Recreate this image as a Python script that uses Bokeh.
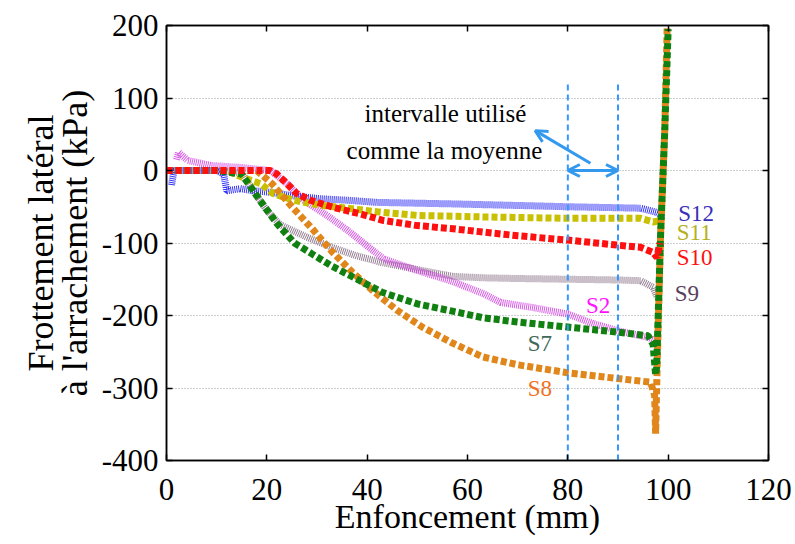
from bokeh.plotting import figure
from bokeh.models import LinearAxis, Arrow, OpenHead, FixedTicker
from bokeh.embed import file_html
from bokeh.resources import INLINE
from bokeh.core.properties import value

# ---- data ----
s8_x = [0, 10, 18, 21, 25, 29, 33, 37, 41, 46, 51, 57, 63, 70, 80, 90, 96.5, 97.3, 97.5, 97.8, 98.5, 99.3, 99.8]
s8_y = [0, 0, 0, -18, -50, -80, -112, -140, -165, -193, -216, -238, -257, -268, -279, -287, -292, -310, -363, -272, -87, 51, 198]

s7_x = [0, 10, 15, 18.5, 22, 25.5, 29, 33, 38, 43, 50, 57, 63, 70, 80, 90, 96, 97, 97.5, 97.7, 98.5, 99.3, 100]
s7_y = [0, 0, -5, -40, -73, -100, -115, -132, -150, -168, -184, -194, -203, -209, -216, -223, -228, -240, -282, -272, -87, 51, 195]

s2_x = [2, 2.4, 4.2, 8.8, 15, 20.7, 24, 27.3, 32, 36, 40, 43.3, 50, 56.6, 63.2, 66.6, 73, 80, 85, 90, 95.9, 97.6]
s2_y = [15, 25, 14, 7, 4, 0, -18, -41, -62, -82, -104, -122, -138, -152, -170, -182, -189, -198, -211, -221, -230, -235]

s9_x = [0, 10, 15, 18, 20, 22.7, 28, 33, 38, 43, 51, 57, 63, 70, 80, 90, 94.5, 97, 97.8]
s9_y = [0, 0, -3, -35, -55, -75, -92, -106, -118, -127, -138, -146, -148, -149, -150, -151, -152, -161, -175]

s10_x = [0, 10, 20.7, 22, 24, 26, 28.7, 33.3, 38.7, 43.3, 50, 56.6, 63.2, 70, 80, 90, 94.5, 97, 97.8, 98.3]
s10_y = [0, 0, 0, -5, -18, -32, -41, -51, -60, -69, -76, -80, -85, -90, -96, -103, -106, -113, -120, -100]

s11_x = [0, 10, 12, 15.3, 18.7, 21.3, 25.3, 30.7, 36, 42, 50, 63, 80, 94.5, 97, 98.5]
s11_y = [0, 0, 0, -10, -18, -32, -41, -48, -52, -57, -62, -64, -66, -66, -71, -69]

s12_x = [1, 1.5, 2, 10, 11.4, 12, 14.7, 17.3, 20.7, 25.3, 30.7, 36, 42, 56.6, 74.5, 80, 94.5, 97.8, 98.3]
s12_y = [-20, 0, 0, 0, -5, -28, -25, -28, -30, -35, -39, -41, -44, -46, -49, -50, -52, -58, -60]

x_ticks = [0, 20, 40, 60, 80, 100, 120]
y_ticks = [-400, -300, -200, -100, 0, 100, 200]
y_tick_labels = ["-400", "-300", "-200", "-100", "0", "100", "200"]

labels_txt = ["S12", "S11", "S10", "S9", "S2", "S7", "S8"]
labels_x = [102.0, 101.7, 101.7, 101.3, 83.6, 72.0, 72.0]
labels_y = [-59, -86, -120, -170, -186, -239, -301]
labels_col = ["#3a2fb8", "#b5b020", "#ff1010", "#5a4060", "#ff10ff", "#406858", "#f07020"]

FONT = "Liberation Serif"

p = figure(width=795, height=544, x_range=(0, 120), y_range=(-400, 200),
           output_backend="svg", toolbar_location=None,
           min_border_left=166, min_border_right=27, min_border_top=25, min_border_bottom=84)
p.background_fill_color = "white"
p.border_fill_color = "white"
p.outline_line_color = "black"
p.outline_line_width = 1.5

p.xgrid.visible = False
p.ygrid.grid_line_color = "#a0a0a0"
p.ygrid.grid_line_dash = "1 2"
p.ygrid.grid_line_width = 1
p.ygrid.ticker = FixedTicker(ticks=y_ticks)

for ax in (p.xaxis[0], p.yaxis[0]):
    ax.major_tick_in = 6
    ax.major_tick_out = 0
    ax.minor_tick_line_color = None
    ax.axis_line_color = "black"
    ax.axis_line_width = 1.5
    ax.major_tick_line_width = 1.5
    ax.major_label_text_font = FONT
    ax.major_label_text_font_size = "31px"
    ax.major_label_text_color = "black"
    ax.axis_label_text_font = FONT
    ax.axis_label_text_font_style = "normal"
    ax.axis_label_text_color = "black"

p.xaxis.ticker = FixedTicker(ticks=x_ticks)
p.yaxis.ticker = FixedTicker(ticks=y_ticks)
p.yaxis.major_label_overrides = dict(zip(y_ticks, y_tick_labels))
p.xaxis.axis_label = "Enfoncement (mm)"
p.xaxis.axis_label_text_font_size = "34px"
p.yaxis.axis_label = "Frottement latéral\nà l'arrachement (kPa)"
p.yaxis.axis_label_text_font_size = "36px"
p.yaxis.axis_label_text_line_height = 0.83
p.xaxis.major_label_standoff = 18
p.yaxis.major_label_standoff = 8
p.xaxis.axis_label_standoff = -5
p.yaxis.axis_label_standoff = 4

# mirrored axes with ticks only (no labels)
ra = LinearAxis(ticker=FixedTicker(ticks=y_ticks), major_label_text_color=None,
                major_tick_in=6, major_tick_out=0, minor_tick_line_color=None,
                axis_line_color="black", axis_line_width=1.5, major_tick_line_width=1.5)
ta = LinearAxis(ticker=FixedTicker(ticks=x_ticks), major_label_text_color=None,
                major_tick_in=6, major_tick_out=0, minor_tick_line_color=None,
                axis_line_color="black", axis_line_width=1.5, major_tick_line_width=1.5)
p.add_layout(ra, "right")
p.add_layout(ta, "above")

# thin hatched series
p.line(s9_x, s9_y, line_color="#7a6078", line_width=7, line_dash="1 1", line_alpha=0.8)
p.line(s2_x, s2_y, line_color="#d040e0", line_width=7, line_dash="1 1", line_alpha=0.85)
p.line(s12_x, s12_y, line_color="#2a2af5", line_width=7, line_dash="1 1", line_alpha=0.95)
# thick dashed series
p.line(s11_x, s11_y, line_color="#c8c000", line_width=7, line_dash="6 3")
p.line(s8_x, s8_y, line_color="#e0861a", line_width=7, line_dash="6 3")
p.line(s7_x, s7_y, line_color="#108010", line_width=7, line_dash="6 3")
p.line(s10_x, s10_y, line_color="#ff1010", line_width=7, line_dash="6 3")

# interval markers
for xv in (80, 90):
    p.segment(x0=[xv], y0=[-400], x1=[xv], y1=[124], line_color="#3399ff",
              line_width=2, line_dash="6 4")

AC = "#3399ee"
p.add_layout(Arrow(end=OpenHead(size=12, line_color=AC, line_width=3),
                   start=OpenHead(size=12, line_color=AC, line_width=3),
                   x_start=80, y_start=0, x_end=90, y_end=0,
                   line_color=AC, line_width=3))
p.add_layout(Arrow(end=OpenHead(size=12, line_color=AC, line_width=3),
                   x_start=84.5, y_start=10, x_end=73.5, y_end=55,
                   line_color=AC, line_width=3))

p.text(x=[55.6, 55.4], y=[79, 28], text=["intervalle utilisé", "comme la moyenne"],
       text_font=value(FONT), text_font_size="25px", text_color="black",
       text_align="center", text_baseline="middle")

p.text(x=labels_x, y=labels_y, text=labels_txt, text_color=labels_col,
       text_font=value(FONT), text_font_size="23px",
       text_align="left", text_baseline="middle")

open("out.html", "w").write(file_html(p, INLINE))
